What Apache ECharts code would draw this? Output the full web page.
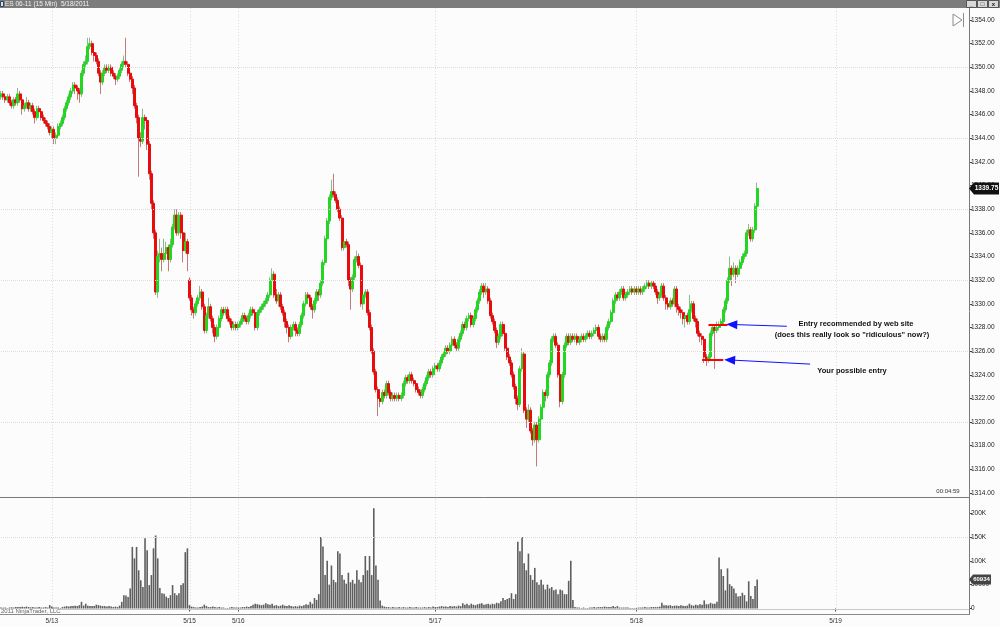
<!DOCTYPE html>
<html><head><meta charset="utf-8">
<script src="https://cdn.jsdelivr.net/npm/echarts/dist/echarts.min.js"></script>
<style>html,body{margin:0;padding:0;background:#fff}#c{width:1000px;height:627px}</style>
</head><body><div id="c"></div>
<script>
// ---- DATA (15-min ES 06-11 bars) ----
const closes = [
1347.75,1347.5,1347.25,1347.5,1347.0,1346.75,1347.25,1347.0,1347.75,1347.25,
1346.5,1346.75,1347.0,1346.5,1346.75,1346.25,1345.75,1346.5,1346.25,1345.75,
1345.5,1345.25,1345.0,1344.5,1344.75,1344.0,1344.25,1345.0,1345.25,1345.75,
1346.5,1347.0,1347.5,1348.0,1348.5,1348.25,1348.0,1347.75,1349.5,1350.25,
1350.5,1351.75,1352.0,1351.25,1351.0,1350.5,1349.5,1348.75,1349.5,1350.0,
1349.75,1350.0,1349.5,1349.25,1349.0,1349.25,1349.75,1350.25,1350.5,1350.25,
1349.5,1349.0,1348.25,1346.75,1345.75,1344.0,1343.75,1345.75,1345.5,1343.5,
1341.0,1338.5,1336.0,1331.0,1334.0,1334.25,1333.75,1334.25,1334.75,1333.75,
1335.0,1336.5,1337.5,1336.0,1337.5,1336.0,1334.5,1335.25,1334.25,1330.5,
1329.5,1329.25,1330.0,1330.5,1331.0,1329.75,1327.75,1329.0,1329.75,1328.75,
1328.0,1327.25,1328.0,1328.75,1329.5,1329.25,1329.5,1328.75,1328.5,1328.0,
1328.25,1328.0,1328.25,1328.5,1329.0,1328.75,1328.5,1329.0,1329.5,1329.25,
1328.0,1329.25,1329.5,1329.75,1330.0,1330.25,1330.75,1332.0,1332.5,1330.75,
1330.25,1330.75,1329.75,1329.25,1328.5,1328.0,1327.25,1328.0,1328.25,1327.75,
1327.5,1328.25,1329.0,1330.0,1330.75,1330.5,1329.75,1329.5,1330.25,1331.0,
1330.75,1331.75,1333.5,1335.5,1337.0,1339.0,1339.5,1339.25,1338.75,1338.0,
1337.25,1334.75,1335.25,1335.0,1332.0,1331.25,1332.25,1333.75,1334.0,1333.25,
1330.0,1330.75,1331.0,1329.25,1328.0,1326.0,1324.25,1322.75,1322.0,1321.75,
1322.5,1322.25,1323.25,1322.5,1322.0,1322.25,1322.0,1322.25,1322.0,1322.25,
1323.25,1323.75,1323.5,1324.0,1323.5,1323.25,1322.75,1322.5,1322.25,1322.75,
1323.25,1323.75,1324.25,1324.0,1324.5,1324.75,1324.5,1325.0,1325.5,1325.75,
1326.25,1326.0,1326.5,1327.0,1326.5,1326.25,1327.0,1327.5,1328.25,1328.0,
1328.75,1329.0,1328.25,1328.75,1329.5,1330.25,1331.0,1331.5,1331.0,1331.25,
1330.25,1329.0,1328.5,1327.75,1326.75,1327.25,1328.25,1327.5,1326.25,1325.5,
1325.0,1324.0,1323.0,1322.0,1321.5,1324.5,1325.75,1321.0,1320.25,1321.0,
1319.25,1318.5,1319.75,1318.5,1320.25,1321.25,1322.5,1322.25,1324.0,1325.0,
1327.0,1327.25,1326.5,1324.0,1321.75,1324.0,1326.5,1327.25,1326.75,1327.25,
1327.0,1327.25,1326.75,1327.0,1327.25,1327.0,1327.25,1327.5,1327.25,1327.5,
1327.75,1328.0,1327.25,1327.0,1327.25,1327.0,1328.0,1328.5,1329.25,1330.25,
1330.75,1330.5,1331.0,1331.25,1330.5,1330.75,1331.0,1331.25,1331.0,1331.25,
1331.0,1331.25,1331.0,1331.25,1331.5,1331.75,1331.5,1331.75,1331.5,1331.0,
1330.5,1330.75,1331.5,1330.5,1330.0,1329.75,1330.25,1330.0,1331.25,1329.75,
1329.5,1329.25,1328.75,1329.0,1328.5,1329.5,1330.0,1328.75,1328.5,1327.5,
1327.25,1327.0,1325.5,1325.25,1325.5,1327.5,1328.0,1327.75,1328.0,1328.25,
1328.5,1329.5,1330.25,1332.0,1333.0,1332.5,1333.0,1332.5,1333.0,1333.5,
1334.0,1334.25,1336.0,1336.25,1335.5,1336.25,1338.25,1339.75
];
const opens = [
1347.5,1347.75,1347.5,1347.25,1347.5,1347.0,1346.75,1347.25,1347.0,1347.75,
1347.25,1346.5,1346.75,1347.0,1346.5,1346.75,1346.25,1345.75,1346.5,1346.25,
1345.75,1345.5,1345.25,1345.0,1344.5,1344.75,1344.0,1344.25,1345.0,1345.25,
1345.75,1346.5,1347.0,1347.5,1348.0,1348.5,1348.25,1348.0,1347.75,1349.5,
1350.25,1350.5,1351.75,1352.0,1351.25,1351.0,1350.5,1349.5,1348.75,1349.5,
1350.0,1349.75,1350.0,1349.5,1349.25,1349.0,1349.25,1349.75,1350.25,1350.5,
1350.25,1349.5,1349.0,1348.25,1346.75,1345.75,1344.0,1343.75,1345.75,1345.5,
1343.5,1341.0,1338.5,1336.0,1331.0,1334.0,1334.25,1333.75,1334.25,1334.75,
1333.75,1335.0,1336.5,1337.5,1336.0,1337.5,1336.0,1334.5,1335.25,1332.0,
1330.5,1329.5,1329.25,1330.0,1330.5,1331.0,1329.75,1327.75,1329.0,1329.75,
1328.75,1328.0,1327.25,1328.0,1328.75,1329.5,1329.25,1329.5,1328.75,1328.5,
1328.0,1328.25,1328.0,1328.25,1328.5,1329.0,1328.75,1328.5,1329.0,1329.5,
1329.25,1328.0,1329.25,1329.5,1329.75,1330.0,1330.25,1330.75,1332.0,1332.5,
1330.75,1330.25,1330.75,1329.75,1329.25,1328.5,1328.0,1327.25,1328.0,1328.25,
1327.75,1327.5,1328.25,1329.0,1330.0,1330.75,1330.5,1329.75,1329.5,1330.25,
1331.0,1330.75,1331.75,1333.5,1335.5,1337.0,1339.0,1339.5,1339.25,1338.75,
1338.0,1337.25,1334.75,1335.25,1335.0,1332.0,1331.25,1332.25,1333.75,1334.0,
1333.25,1330.0,1330.75,1331.0,1329.25,1328.0,1326.0,1324.25,1322.75,1322.0,
1321.75,1322.5,1322.25,1323.25,1322.5,1322.0,1322.25,1322.0,1322.25,1322.0,
1322.25,1323.25,1323.75,1323.5,1324.0,1323.5,1323.25,1322.75,1322.5,1322.25,
1322.75,1323.25,1323.75,1324.25,1324.0,1324.5,1324.75,1324.5,1325.0,1325.5,
1325.75,1326.25,1326.0,1326.5,1327.0,1326.5,1326.25,1327.0,1327.5,1328.25,
1328.0,1328.75,1329.0,1328.25,1328.75,1329.5,1330.25,1331.0,1331.5,1331.0,
1331.25,1330.25,1329.0,1328.5,1327.75,1326.75,1327.25,1328.25,1327.5,1326.25,
1325.5,1325.0,1324.0,1323.0,1322.0,1321.5,1324.5,1325.75,1321.0,1320.25,
1321.0,1319.25,1318.5,1319.75,1318.5,1320.25,1321.25,1322.5,1322.25,1324.0,
1325.0,1327.0,1327.25,1326.5,1324.0,1321.75,1324.0,1326.5,1327.25,1326.75,
1327.25,1327.0,1327.25,1326.75,1327.0,1327.25,1327.0,1327.25,1327.5,1327.25,
1327.5,1327.75,1328.0,1327.25,1327.0,1327.25,1327.0,1328.0,1328.5,1329.25,
1330.25,1330.75,1330.5,1331.0,1331.25,1330.5,1330.75,1331.0,1331.25,1331.0,
1331.25,1331.0,1331.25,1331.0,1331.25,1331.5,1331.75,1331.5,1331.75,1331.5,
1331.0,1330.5,1330.75,1331.5,1330.5,1330.0,1329.75,1330.25,1330.0,1331.25,
1329.75,1329.5,1329.25,1328.75,1329.0,1328.5,1329.5,1330.0,1328.75,1328.5,
1327.5,1327.25,1327.0,1325.5,1325.25,1325.5,1327.5,1328.0,1327.75,1328.0,
1328.25,1328.5,1329.5,1330.25,1332.0,1333.0,1332.5,1333.0,1332.5,1333.0,
1333.5,1334.0,1334.25,1336.0,1336.25,1335.5,1336.25,1338.25
];
const highs = [
1348.0,1348.0,1347.75,1347.75,1347.75,1347.25,1347.5,1347.5,1348.25,1348.0,
1347.5,1347.0,1347.5,1347.25,1347.0,1347.0,1346.5,1346.75,1346.75,1346.5,
1346.0,1345.75,1345.5,1345.25,1345.0,1345.0,1344.5,1345.25,1345.5,1346.0,
1346.75,1347.25,1347.75,1348.25,1348.75,1348.75,1348.5,1348.25,1349.75,1350.5,
1351.0,1352.5,1352.5,1352.25,1351.5,1351.25,1350.75,1349.75,1349.75,1350.25,
1350.25,1350.25,1350.25,1349.75,1349.5,1349.5,1350.0,1350.5,1351.0,1352.5,
1350.5,1349.75,1349.25,1348.5,1347.0,1346.0,1344.5,1346.5,1346.0,1345.75,
1343.75,1341.25,1338.75,1336.25,1334.5,1335.5,1334.75,1335.5,1335.25,1335.0,
1335.5,1336.75,1338.0,1338.0,1337.75,1337.75,1336.25,1336.0,1335.5,1332.25,
1330.75,1329.75,1330.25,1330.75,1331.5,1331.25,1330.0,1329.25,1330.5,1330.0,
1329.0,1328.25,1328.25,1329.0,1329.75,1329.75,1329.75,1329.75,1329.0,1328.75,
1328.5,1328.5,1328.5,1328.75,1329.25,1329.25,1329.0,1329.25,1329.75,1329.75,
1329.5,1329.5,1329.75,1330.0,1330.25,1330.5,1331.0,1332.25,1333.0,1332.75,
1331.25,1331.0,1331.0,1330.0,1329.5,1328.75,1328.25,1328.25,1328.5,1328.5,
1328.0,1328.5,1329.25,1330.25,1331.0,1331.0,1330.75,1330.0,1330.5,1331.25,
1331.25,1332.0,1333.75,1335.75,1337.25,1339.25,1340.5,1341.0,1339.5,1339.0,
1338.25,1337.5,1335.75,1335.5,1335.25,1332.25,1332.5,1334.0,1334.5,1334.25,
1333.5,1331.0,1331.25,1331.25,1329.5,1328.25,1326.25,1324.5,1323.0,1322.25,
1322.75,1322.75,1323.5,1323.5,1322.75,1322.5,1322.5,1322.5,1322.5,1322.5,
1323.5,1324.0,1324.0,1324.25,1324.25,1323.75,1323.5,1323.0,1322.75,1323.0,
1323.5,1324.0,1324.5,1324.5,1324.75,1325.0,1325.0,1325.25,1325.75,1326.0,
1326.5,1326.5,1326.75,1327.25,1327.25,1326.75,1327.25,1327.75,1328.5,1328.5,
1329.0,1329.25,1329.25,1329.0,1329.75,1330.5,1331.25,1331.75,1331.75,1331.75,
1331.5,1330.5,1329.25,1328.75,1328.0,1327.5,1328.5,1328.5,1327.75,1326.5,
1325.75,1325.25,1324.25,1323.25,1322.25,1324.75,1326.25,1326.0,1321.25,1321.5,
1321.25,1319.5,1320.0,1320.0,1320.5,1321.5,1322.75,1322.75,1324.25,1325.25,
1327.25,1327.5,1327.5,1326.75,1324.25,1324.25,1326.75,1327.5,1327.5,1327.5,
1327.5,1327.5,1327.5,1327.25,1327.5,1327.5,1327.5,1327.75,1327.75,1327.75,
1328.0,1328.25,1328.25,1327.5,1327.5,1327.5,1328.25,1328.75,1329.5,1330.5,
1331.0,1331.0,1331.25,1331.5,1331.5,1331.0,1331.25,1331.5,1331.5,1331.5,
1331.5,1331.5,1331.5,1331.5,1331.75,1332.0,1332.0,1332.0,1332.0,1331.75,
1331.25,1331.0,1331.75,1331.75,1330.75,1330.25,1330.5,1330.5,1331.5,1331.5,
1330.0,1329.75,1329.5,1329.25,1329.25,1330.75,1330.25,1330.25,1329.0,1328.75,
1327.75,1327.5,1327.25,1325.75,1325.75,1327.75,1328.25,1328.25,1328.5,1328.5,
1328.75,1329.75,1330.5,1332.25,1334.0,1333.25,1333.5,1333.25,1333.25,1333.75,
1334.25,1334.5,1336.25,1336.75,1336.5,1336.5,1338.5,1340.25
];
const lows = [
1347.25,1347.25,1347.0,1347.0,1346.75,1346.5,1346.5,1346.75,1346.75,1347.0,
1346.0,1346.25,1346.5,1346.25,1346.25,1346.0,1345.25,1345.5,1346.0,1345.5,
1345.25,1345.0,1344.75,1344.25,1344.0,1343.5,1343.5,1344.0,1344.75,1345.0,
1345.5,1346.25,1346.75,1347.25,1347.75,1347.75,1347.25,1347.0,1347.5,1349.25,
1350.0,1350.25,1351.5,1351.0,1350.5,1350.25,1349.25,1347.75,1348.5,1349.25,
1349.5,1349.5,1349.25,1349.0,1348.5,1348.75,1349.0,1349.5,1350.0,1350.0,
1349.25,1348.75,1347.75,1346.5,1345.25,1340.75,1343.25,1343.5,1344.75,1343.0,
1340.5,1338.0,1335.5,1330.75,1330.5,1333.5,1332.75,1333.5,1333.75,1332.75,
1333.5,1334.75,1336.25,1335.75,1335.75,1335.5,1333.5,1334.25,1332.75,1330.25,
1329.0,1328.75,1329.0,1329.75,1330.25,1329.5,1327.5,1327.5,1328.75,1328.5,
1327.5,1326.75,1327.0,1327.75,1328.5,1329.0,1329.0,1328.5,1328.25,1327.75,
1327.75,1327.75,1327.75,1328.0,1328.25,1328.5,1328.25,1328.25,1328.75,1329.0,
1327.75,1327.75,1329.0,1329.25,1329.5,1329.75,1330.0,1330.5,1331.75,1330.5,
1330.0,1329.75,1329.5,1329.0,1328.0,1327.5,1326.75,1327.0,1327.75,1327.25,
1327.25,1327.25,1328.0,1328.75,1329.75,1330.25,1329.5,1328.75,1329.25,1330.0,
1330.25,1330.5,1331.5,1333.25,1335.25,1336.75,1338.75,1339.0,1338.5,1337.75,
1337.0,1334.5,1334.5,1334.75,1331.5,1329.5,1331.0,1332.0,1333.5,1333.0,
1329.75,1329.5,1330.5,1329.0,1327.75,1325.75,1324.0,1322.5,1320.5,1321.25,
1321.5,1322.0,1322.0,1322.25,1321.75,1321.75,1321.75,1321.75,1321.75,1321.75,
1322.0,1323.0,1323.25,1323.25,1323.25,1323.0,1322.5,1322.25,1322.0,1322.0,
1322.5,1323.0,1323.5,1323.75,1323.75,1324.25,1324.25,1324.25,1324.75,1325.25,
1325.5,1325.75,1325.75,1326.25,1326.25,1326.0,1326.0,1326.75,1327.25,1327.75,
1327.75,1328.5,1328.0,1328.0,1328.5,1329.25,1330.0,1330.75,1330.5,1330.75,
1330.0,1328.75,1328.25,1327.5,1326.25,1326.5,1327.0,1327.25,1326.0,1325.25,
1324.75,1323.75,1322.75,1321.5,1321.0,1321.25,1324.25,1320.75,1319.5,1320.0,
1319.0,1318.0,1318.25,1316.25,1318.25,1320.0,1321.0,1321.75,1322.0,1323.75,
1324.75,1326.75,1326.25,1323.75,1321.25,1321.5,1323.75,1326.25,1326.5,1326.5,
1326.75,1326.75,1326.5,1326.5,1326.75,1326.75,1326.75,1327.0,1327.0,1327.0,
1327.25,1327.5,1327.0,1326.75,1326.75,1326.75,1326.75,1327.75,1328.25,1329.0,
1330.0,1330.25,1330.25,1330.75,1330.25,1330.25,1330.5,1330.75,1330.75,1330.75,
1330.75,1330.75,1330.75,1330.75,1331.0,1331.25,1331.25,1331.25,1331.25,1330.75,
1330.0,1330.25,1330.5,1330.25,1329.5,1329.5,1329.5,1329.75,1329.75,1329.25,
1329.0,1328.75,1328.25,1328.0,1328.25,1328.25,1329.25,1328.5,1328.0,1327.25,
1326.75,1326.5,1325.0,1324.75,1325.0,1325.25,1327.25,1324.5,1327.5,1327.75,
1328.0,1328.25,1329.25,1330.0,1331.75,1331.5,1332.25,1331.75,1332.25,1332.75,
1333.25,1333.75,1334.0,1335.75,1335.25,1335.25,1336.0,1338.0
];
const volumes = [
2000,1500,2000,1000,2000,2500,2000,3000,3000,3000,
3500,3000,4000,3000,2500,3000,2000,2000,3000,2000,
2000,3000,2000,7000,4000,2000,2000,2000,1000,3000,
4000,5000,4000,5000,5000,6000,5000,7000,14000,6000,
10000,6000,5000,5000,5000,8000,7000,6000,5000,5000,
4000,5000,4000,3000,4000,3000,6000,14000,28000,27000,
24000,42000,129000,105000,129000,80000,59000,45000,147000,122000,
49000,70000,126000,153000,105000,43000,32000,31000,25000,22000,
28000,49000,32000,28000,32000,49000,53000,118000,126000,7000,
4000,3000,2000,2000,3000,4000,8000,5000,3000,3000,
4000,3000,2000,3000,2000,2000,1000,1000,2000,3000,
2000,2000,2000,2000,3000,3000,4000,3000,5000,8000,
10000,9000,8000,7000,8000,11000,9000,8000,10000,6000,
7000,5000,6000,8000,6000,5000,7000,5000,4000,5000,
4000,6000,5000,7000,9000,8000,14000,10000,22000,18000,
30000,150000,130000,70000,100000,50000,90000,60000,55000,120000,
115000,70000,60000,52000,75000,55000,60000,52000,80000,60000,
55000,70000,110000,80000,110000,70000,210000,90000,60000,17000,
6000,4000,3000,3000,2000,3000,2000,2000,3000,2000,
3000,2000,2000,3000,2000,2000,3000,2000,2000,2000,
3000,2000,3000,2000,4000,3000,3000,4000,5000,4000,
4000,3000,5000,4000,5000,4000,6000,5000,11000,8000,
10000,7000,10000,8000,7000,9000,10000,11000,8000,9000,
10000,8000,10000,9000,12000,11000,15000,22000,18000,20000,
22000,32000,20000,30000,140000,120000,150000,95000,80000,115000,
70000,60000,85000,55000,50000,60000,50000,40000,50000,42000,
45000,38000,40000,30000,40000,38000,30000,30000,58000,100000,
18000,3000,2000,2000,1000,2000,1000,1000,2000,2000,
3000,2000,3000,3000,3000,4000,3000,3000,3000,5000,
3000,5000,2000,2000,2000,2000,2000,1000,1000,1000,
1000,2000,2000,2000,3000,2000,2000,3000,3000,3000,
3000,4000,12000,7000,7000,6000,7000,5000,6000,6000,
5000,7000,6000,5000,6000,10000,7000,6000,8000,7000,
9000,8000,17000,9000,9000,12000,10000,10000,14000,107000,
82000,68000,38000,84000,51000,47000,42000,32000,25000,26000,
33000,28000,15000,57000,26000,20000,47000,60934
];
const slotCount = 458;                       // bar slots on the time axis (data + empty future)
const dateTickIdx  = [24, 89, 112, 205, 300, 394];
const dateTickText = ['5/13', '5/15', '5/16', '5/17', '5/18', '5/19'];
const priceGridLevels = [1320, 1326, 1332, 1338, 1344, 1350];
const volumeGridLevels = [150000];
const entryRecommended = 1328.25;
const entryPossible = 1325.25;
const titleText = 'ES 06-11 (15 Min)  5/18/2011';
const noteRecommended1 = 'Entry recommended by web site';
const noteRecommended2 = '(does this really look so "ridiculous" now?)';
const notePossible = 'Your possible entry';

// ---- BUILD ----
const cats = [];
for (let i = 0; i < slotCount; i++) {
  const k = dateTickIdx.indexOf(i);
  cats.push(k >= 0 ? dateTickText[k] : '');
}
const ohlc = opens.map((o, i) => [o, closes[i], lows[i], highs[i]]);
const bodies = opens.map((o, i) => [o, closes[i], Math.min(o, closes[i]), Math.max(o, closes[i])]);
const isTick = (i) => dateTickIdx.indexOf(i) >= 0;
const FONT = '"Liberation Sans", Arial, sans-serif';
const GRID_COLOR = '#dcdcdc';

const chart = echarts.init(document.getElementById('c'));
const option = {
  animation: false,
  backgroundColor: '#fcfcfc',
  grid: [
    {left: 1, width: 968, top: 20, height: 473},
    {left: 1, width: 968, top: 513, height: 95.5}
  ],
  xAxis: [
    {type: 'category', gridIndex: 0, data: cats, boundaryGap: false,
     axisLine: {show: false}, axisTick: {show: false}, axisLabel: {show: false}, splitLine: {show: false}},
    {type: 'category', gridIndex: 1, data: cats, boundaryGap: false, offset: 6,
     axisLine: {show: false},
     axisTick: {show: true, interval: (i) => isTick(i), length: 3, lineStyle: {color: '#555'}},
     axisLabel: {show: true, interval: (i) => isTick(i), fontSize: 6.5, color: '#333', margin: 3, fontFamily: FONT},
     splitLine: {show: false}}
  ],
  yAxis: [
    {type: 'value', gridIndex: 0, position: 'right', min: 1314, max: 1354, interval: 2,
     axisLine: {show: false},
     axisTick: {show: true, length: 3, lineStyle: {color: '#444'}},
     axisLabel: {fontSize: 6.5, color: '#222', margin: 2, fontFamily: FONT,
                 formatter: (v) => v.toFixed(2), showMinLabel: true, showMaxLabel: true},
     splitLine: {show: false}},
    {type: 'value', gridIndex: 1, position: 'right', min: 0, max: 200000, interval: 50000,
     axisLine: {show: false},
     axisTick: {show: true, length: 3, lineStyle: {color: '#444'}},
     axisLabel: {fontSize: 6.5, color: '#222', margin: 2, fontFamily: FONT,
                 formatter: (v) => v >= 100000 ? (v / 1000) + 'K' : String(v)},
     splitLine: {show: false}}
  ],
  series: [
    {
      name: 'wicks', type: 'candlestick', xAxisIndex: 0, yAxisIndex: 0, data: ohlc,
      barWidth: 1, z: 2,
      itemStyle: {color: '#8fb88f', color0: '#c27a7a', borderColor: '#8fb88f', borderColor0: '#c27a7a', borderWidth: 1},
      markLine: {
        silent: true, symbol: ['none', 'none'], label: {show: false},
        lineStyle: {type: 'dotted', color: GRID_COLOR, width: 1},
        data: priceGridLevels.map((v) => ({yAxis: v}))
      }
    },
    {
      name: 'bodies', type: 'candlestick', xAxisIndex: 0, yAxisIndex: 0, data: bodies,
      barWidth: 2.5, z: 3,
      itemStyle: {color: '#22d622', color0: '#e80c0c', borderColor: '#22d622', borderColor0: '#e80c0c', borderWidth: 1},
      markLine: {
        silent: true, symbol: ['none', 'none'], label: {show: false},
        data: [
          [{coord: [334, entryRecommended], lineStyle: {color: '#ff0000', width: 2, type: 'solid'}},
           {coord: [343, entryRecommended]}],
          [{coord: [331, entryPossible], lineStyle: {color: '#ff0000', width: 2, type: 'solid'}},
           {coord: [341, entryPossible]}],
          [{coord: [371, 1328.1], lineStyle: {color: '#1010ff', width: 1, type: 'solid'}},
           {coord: [345, entryRecommended], symbol: 'triangle', symbolSize: [9, 11]}],
          [{coord: [382, 1324.9], lineStyle: {color: '#1010ff', width: 1, type: 'solid'}},
           {coord: [344, entryPossible], symbol: 'triangle', symbolSize: [9, 11]}]
        ]
      }
    },
    {
      name: 'volume', type: 'bar', xAxisIndex: 1, yAxisIndex: 1, data: volumes,
      barWidth: 1.6, clip: false, z: 2,
      itemStyle: {color: '#5e5e5e'},
      markLine: {
        silent: true, symbol: ['none', 'none'], label: {show: false},
        lineStyle: {type: 'dotted', color: GRID_COLOR, width: 1},
        data: volumeGridLevels.map((v) => ({yAxis: v}))
      }
    }
  ]
};
chart.setOption(option);

// ---- OVERLAYS (positions from the chart's own scales) ----
const px = (i) => chart.convertToPixel({xAxisIndex: 0}, i);
const pyP = (v) => chart.convertToPixel({yAxisIndex: 0}, v);
const pyV = (v) => chart.convertToPixel({yAxisIndex: 1}, v);
const txt = (x, y, text, font, fill, align, z) => ({
  type: 'text', x: x, y: y, z: z || 60, silent: true,
  style: {text: text, font: font, fill: fill, textAlign: align || 'left', align: align || 'left',
          textVerticalAlign: 'middle', verticalAlign: 'middle'}
});
const g = [];
dateTickIdx.forEach((i) => {
  const x = Math.round(px(i)) + 0.5;
  g.push({type: 'line', z: 0, silent: true, shape: {x1: x, y1: 8, x2: x, y2: 496},
          style: {stroke: GRID_COLOR, lineWidth: 1, lineDash: [1, 2]}});
  g.push({type: 'line', z: 0, silent: true, shape: {x1: x, y1: 499, x2: x, y2: 613},
          style: {stroke: GRID_COLOR, lineWidth: 1, lineDash: [1, 2]}});
});
// title bar
g.push({type: 'rect', z: 50, silent: true, shape: {x: 0, y: 0, width: 1000, height: 8}, style: {fill: '#7c7c7c'}});
g.push({type: 'rect', z: 51, silent: true, shape: {x: 0.5, y: 1.5, width: 3, height: 5}, style: {fill: '#cfe0ff', stroke: '#345'}});
g.push(txt(5, 4.2, titleText, '6.5px ' + FONT, '#f2f2f2', 'left', 52));
[966, 977, 988].forEach((bx, k) => {
  g.push({type: 'rect', z: 51, silent: true, shape: {x: bx + 0.5, y: 0.5, width: 10, height: 7}, style: {fill: '#d8d8d8', stroke: '#555', lineWidth: 1}});
  g.push(txt(bx + 5.5, 4, ['_', '\u25A1', 'x'][k], 'bold 6px ' + FONT, '#222', 'center', 52));
});
// frame lines
g.push({type: 'line', z: 50, silent: true, shape: {x1: 969.5, y1: 8, x2: 969.5, y2: 615}, style: {stroke: '#7a7a7a', lineWidth: 1}});
g.push({type: 'line', z: 50, silent: true, shape: {x1: 0, y1: 497.5, x2: 969.5, y2: 497.5}, style: {stroke: '#7a7a7a', lineWidth: 1}});
const y0 = Math.round(pyV(0)) + 0.5;
g.push({type: 'line', z: 1, silent: true, shape: {x1: 0, y1: y0, x2: 969.5, y2: y0}, style: {stroke: '#c8c8c8', lineWidth: 1}});
g.push({type: 'line', z: 50, silent: true, shape: {x1: 0, y1: 614.5, x2: 969.5, y2: 614.5}, style: {stroke: '#8a8a8a', lineWidth: 1}});
// play icon
g.push({type: 'polygon', z: 50, silent: true, shape: {points: [[953, 14], [953, 26], [962, 20]]}, style: {fill: 'none', stroke: '#8c8c8c', lineWidth: 1}});
g.push({type: 'line', z: 50, silent: true, shape: {x1: 963.5, y1: 13, x2: 963.5, y2: 27}, style: {stroke: '#8c8c8c', lineWidth: 1}});
// bar timer and copyright
g.push(txt(948, 491, '00:04:59', '6px ' + FONT, '#333', 'center'));
g.push({type: 'rect', z: 55, silent: true, shape: {x: 0, y: 609, width: 60, height: 5}, style: {fill: '#fbfbfb'}});
g.push(txt(1, 611.5, '2011 NinjaTrader, LLC', '6px ' + FONT, '#666', 'left', 56));
// annotation notes
const noteFont = 'bold 7.5px ' + FONT;
g.push(txt(856, pyP(entryRecommended) - 0.5, noteRecommended1, noteFont, '#111', 'center'));
g.push(txt(852, pyP(entryRecommended) + 10.5, noteRecommended2, noteFont, '#111', 'center'));
g.push(txt(852, pyP(entryPossible) + 11, notePossible, noteFont, '#111', 'center'));
// last price / last volume markers
const lastC = closes[closes.length - 1];
const yc = pyP(lastC);
g.push({type: 'polygon', z: 60, silent: true, shape: {points: [[969, yc], [974, yc - 6], [999, yc - 6], [999, yc + 6], [974, yc + 6]]}, style: {fill: '#111'}});
g.push(txt(986.5, yc, lastC.toFixed(2), 'bold 6.5px ' + FONT, '#fff', 'center', 61));
const lastV = volumes[volumes.length - 1];
const yv = pyV(lastV);
g.push({type: 'polygon', z: 60, silent: true, shape: {points: [[969, yv], [973, yv - 5], [991, yv - 5], [991, yv + 5], [973, yv + 5]]}, style: {fill: '#444'}});
g.push(txt(981.5, yv, String(lastV), 'bold 6px ' + FONT, '#fff', 'center', 61));

chart.setOption({graphic: {elements: g}});
</script>
</body></html>
